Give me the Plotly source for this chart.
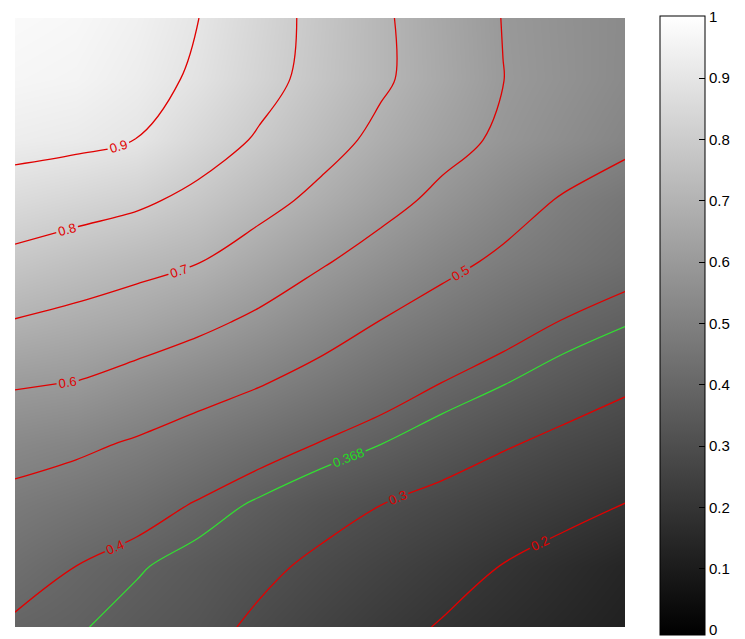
import plotly.graph_objects as go

# grid coordinates (normalized), x left->right, y bottom->top
x_vals = [0.0, 0.1, 0.2, 0.3, 0.4, 0.5, 0.6, 0.7, 0.8, 0.9, 1.0]
y_vals = [0.0, 0.1, 0.2, 0.3, 0.4, 0.5, 0.6, 0.7, 0.8, 0.9, 1.0]

# field values, one row per y level (bottom first)
row_y00 = [0.390, 0.374, 0.347, 0.323, 0.287, 0.255, 0.224, 0.195, 0.170, 0.145, 0.120]
row_y01 = [0.431, 0.400, 0.374, 0.346, 0.316, 0.286, 0.257, 0.228, 0.198, 0.169, 0.140]
row_y02 = [0.475, 0.453, 0.428, 0.394, 0.359, 0.326, 0.300, 0.275, 0.249, 0.224, 0.198]
row_y03 = [0.533, 0.516, 0.490, 0.459, 0.428, 0.397, 0.368, 0.337, 0.307, 0.280, 0.258]
row_y04 = [0.608, 0.597, 0.566, 0.535, 0.505, 0.470, 0.434, 0.399, 0.370, 0.341, 0.312]
row_y05 = [0.695, 0.675, 0.653, 0.620, 0.582, 0.539, 0.497, 0.462, 0.428, 0.396, 0.372]
row_y06 = [0.777, 0.752, 0.727, 0.703, 0.657, 0.609, 0.565, 0.522, 0.486, 0.456, 0.427]
row_y07 = [0.857, 0.837, 0.815, 0.777, 0.728, 0.679, 0.628, 0.580, 0.535, 0.492, 0.460]
row_y08 = [0.930, 0.920, 0.899, 0.844, 0.791, 0.734, 0.679, 0.629, 0.586, 0.552, 0.519]
row_y09 = [0.965, 0.957, 0.930, 0.888, 0.830, 0.771, 0.713, 0.657, 0.601, 0.570, 0.538]
row_y10 = [0.980, 0.971, 0.945, 0.901, 0.839, 0.776, 0.713, 0.654, 0.598, 0.568, 0.540]

z_rows = [row_y00, row_y01, row_y02, row_y03, row_y04, row_y05,
          row_y06, row_y07, row_y08, row_y09, row_y10]

red_levels = [0.2, 0.9, 0.1]   # start, end, step
green_level = 0.368

cbar_ticks = [0, 0.1, 0.2, 0.3, 0.4, 0.5, 0.6, 0.7, 0.8, 0.9, 1]
cbar_labels = ["0", "0.1", "0.2", "0.3", "0.4", "0.5", "0.6", "0.7", "0.8", "0.9", "1"]

# the page body has an 8px default margin; figure sized to fit the window
BODY = 8
W, H = 745 - BODY, 639 - BODY
ml, mt = 15 - BODY, 18 - BODY
plot_w, plot_h = 610, 609
mr = W - ml - plot_w
mb = H - mt - plot_h

fig = go.Figure()

fig.add_trace(go.Heatmap(
    x=x_vals, y=y_vals, z=z_rows,
    zmin=-0.008, zmax=1.0015, zsmooth="best",
    colorscale=[[0, "black"], [1, "white"]],
    colorbar=dict(
        thickness=45, thicknessmode="pixels",
        len=619, lenmode="pixels",
        x=(660 - BODY - ml) / plot_w, xanchor="left", xref="paper",
        y=1 + 2 / plot_h, yanchor="top",
        xpad=0, ypad=0,
        outlinewidth=1, outlinecolor="black",
        tickmode="array", tickvals=cbar_ticks, ticktext=cbar_labels,
        ticks="inside", ticklen=6, tickcolor="black", tickwidth=1,
        tickfont=dict(family="Liberation Sans, Arial, sans-serif", size=15, color="black"),
    ),
    hoverinfo="skip",
))

fig.add_trace(go.Contour(
    x=x_vals, y=y_vals, z=z_rows,
    autocontour=False,
    contours=dict(start=red_levels[0], end=red_levels[1], size=red_levels[2],
                  coloring="none", showlabels=True,
                  labelfont=dict(family="Liberation Sans, Arial, sans-serif", size=13, color="#e00000"),
                  labelformat=".1f"),
    line=dict(color="#e00000", width=1.3, smoothing=1.0),
    showscale=False, hoverinfo="skip",
))

fig.add_trace(go.Contour(
    x=x_vals, y=y_vals, z=z_rows,
    autocontour=False,
    contours=dict(start=green_level, end=green_level, size=0.1,
                  coloring="none", showlabels=True,
                  labelfont=dict(family="Liberation Sans, Arial, sans-serif", size=13, color="#22dd22"),
                  labelformat=".3f"),
    line=dict(color="#33dd33", width=1.3, smoothing=1.0),
    showscale=False, hoverinfo="skip",
))

fig.update_xaxes(visible=False, range=[0, 1])
fig.update_yaxes(visible=False, range=[0, 1])
fig.update_layout(
    width=W, height=H,
    margin=dict(l=ml, r=mr, t=mt, b=mb, autoexpand=False),
    paper_bgcolor="white", plot_bgcolor="white",
    showlegend=False,
)

fig.write_html("out.html")
